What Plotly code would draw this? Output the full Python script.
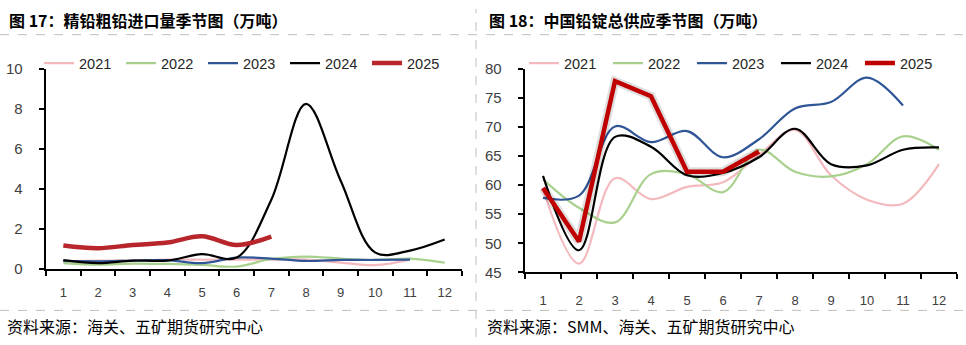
import plotly.graph_objects as go

months = list(range(1, 13))
month_labels = [str(m) for m in months]
years = ["2021", "2022", "2023", "2024", "2025"]
left_yticks = [0, 2, 4, 6, 8, 10]
right_yticks = [45, 50, 55, 60, 65, 70, 75, 80]

# Left chart: 精铅粗铅进口量 (万吨)
imp_2021 = [0.35, 0.40, 0.40, 0.45, 0.45, 0.45, 0.45, 0.45, 0.30, 0.17, 0.45]
imp_2022 = [0.27, 0.19, 0.25, 0.23, 0.18, 0.10, 0.48, 0.60, 0.50, 0.43, 0.50, 0.30]
imp_2023 = [0.38, 0.36, 0.40, 0.42, 0.27, 0.55, 0.50, 0.38, 0.43, 0.43, 0.45]
imp_2024 = [0.42, 0.27, 0.40, 0.40, 0.72, 0.55, 3.45, 8.25, 4.40, 0.80, 0.90, 1.45]
imp_2025 = [1.15, 1.02, 1.18, 1.30, 1.62, 1.18, 1.60]

# Right chart: 中国铅锭总供应 (万吨)
sup_2021 = [59.3, 46.5, 61.2, 57.6, 59.7, 60.5, 65.2, 69.5, 61.7, 57.5, 56.8, 63.6]
sup_2022 = [61.0, 56.1, 53.6, 61.9, 61.9, 58.8, 66.1, 62.3, 61.5, 63.6, 68.4, 66.1]
sup_2023 = [57.8, 58.2, 70.1, 67.4, 69.3, 64.8, 67.9, 73.2, 74.3, 78.5, 73.7]
sup_2024 = [61.6, 48.8, 68.3, 66.6, 61.7, 62.1, 64.8, 69.7, 63.6, 63.4, 66.1, 66.5]
sup_2025 = [59.5, 50.3, 77.9, 75.3, 62.3, 62.3, 65.8]

colors = {"2021": "#F4B9BE", "2022": "#A9D18E", "2023": "#2F5597",
          "2024": "#000000", "2025": "#C00000"}

left_data = {"2021": imp_2021, "2022": imp_2022, "2023": imp_2023,
             "2024": imp_2024, "2025": imp_2025}
right_data = {"2021": sup_2021, "2022": sup_2022, "2023": sup_2023,
              "2024": sup_2024, "2025": sup_2025}

fig = go.Figure()

for y in years:
    vals = left_data[y]
    fig.add_trace(go.Scatter(
        x=months[:len(vals)], y=vals, mode="lines", name=y,
        line=dict(color="#B8252B" if y == "2025" else colors[y],
                  width=4.5 if y == "2025" else 2.2, shape="spline", smoothing=1.0),
        xaxis="x", yaxis="y", legend="legend"))

for y in years:
    vals = right_data[y]
    if y == "2025":
        fig.add_trace(go.Scatter(
            x=months[:len(vals)], y=vals, mode="lines", showlegend=False,
            line=dict(color="rgba(0,0,0,0.13)", width=9, shape="linear"),
            xaxis="x2", yaxis="y2", hoverinfo="skip"))
    fig.add_trace(go.Scatter(
        x=months[:len(vals)], y=vals, mode="lines", name=y,
        line=dict(color=colors[y], width=4.5 if y == "2025" else 2.2,
                  shape="linear" if y == "2025" else "spline", smoothing=1.0),
        xaxis="x2", yaxis="y2", legend="legend2"))

tick_font = dict(family="Liberation Sans, Arial", size=15, color="#404040")
pad = "<span style='color:rgba(0,0,0,0);font-size:12px'>00</span>"


def xaxis_common(label_len):
    return dict(
        range=[0.5, 12.5], tickmode="array", tickvals=months, ticktext=month_labels,
        ticks="outside", ticklen=label_len, tickcolor="rgba(0,0,0,0)",
        showline=True, linecolor="black", linewidth=2, showgrid=False, zeroline=False,
        tickfont=dict(family="Liberation Sans, Arial", size=13, color="#404040"),
        minor=dict(tickmode="array", tickvals=[0.5 + i for i in range(13)],
                   ticks="outside", ticklen=5, tickwidth=1.5, tickcolor="black",
                   showgrid=False),
        fixedrange=True)


def yaxis_common(rng, ticks_list):
    return dict(
        range=rng, tickmode="array", tickvals=ticks_list,
        ticktext=[f"{v}{pad}" for v in ticks_list],
        ticks="outside", ticklen=5, tickwidth=1.5, tickcolor="black",
        showline=True, linecolor="black", linewidth=2,
        showgrid=False, zeroline=False, tickfont=tick_font, fixedrange=True)


legend_font = dict(family="Liberation Sans, Arial", size=14.5, color="#262626")

fig.update_layout(
    width=966, height=345, margin=dict(l=0, r=0, t=0, b=0),
    paper_bgcolor="white", plot_bgcolor="white",
    xaxis=dict(domain=[46 / 966, 462 / 966], anchor="y", **xaxis_common(11)),
    yaxis=dict(domain=[(345 - 273) / 345, (345 - 63) / 345], anchor="x",
               **yaxis_common([0, 10], left_yticks)),
    xaxis2=dict(domain=[525 / 966, 957 / 966], anchor="y2", **xaxis_common(15)),
    yaxis2=dict(domain=[(345 - 277) / 345, (345 - 63) / 345], anchor="x2",
                **yaxis_common([45, 80], right_yticks)),
    legend=dict(orientation="h", x=0.0404, y=(345 - 57) / 345, xanchor="left",
                yanchor="middle", bgcolor="rgba(0,0,0,0)", font=legend_font,
                entrywidth=37, entrywidthmode="pixels", tracegroupgap=0),
    legend2=dict(orientation="h", x=0.5424, y=(345 - 57) / 345, xanchor="left",
                 yanchor="middle", bgcolor="rgba(0,0,0,0)", font=legend_font,
                 entrywidth=39, entrywidthmode="pixels", tracegroupgap=0),
    showlegend=True,
)

title_font = dict(family="Noto Sans CJK SC", size=16, color="black")
src_font = dict(family="Noto Sans CJK SC", size=16, color="black")
fig.add_annotation(text="<b>图 17：精铅粗铅进口量季节图（万吨）</b>", x=7 / 966, y=(345 - 12) / 345,
                   xref="paper", yref="paper", xanchor="left", yanchor="middle",
                   showarrow=False, font=title_font)
fig.add_annotation(text="<b>图 18：中国铅锭总供应季节图（万吨）</b>", x=487 / 966, y=(345 - 12) / 345,
                   xref="paper", yref="paper", xanchor="left", yanchor="middle",
                   showarrow=False, font=title_font)
fig.add_annotation(text="资料来源：海关、五矿期货研究中心", x=5 / 966, y=(345 - 333) / 345,
                   xref="paper", yref="paper", xanchor="left", yanchor="middle",
                   showarrow=False, font=src_font)
fig.add_annotation(text="资料来源：SMM、海关、五矿期货研究中心", x=485 / 966, y=(345 - 333) / 345,
                   xref="paper", yref="paper", xanchor="left", yanchor="middle",
                   showarrow=False, font=src_font)

dash = dict(color="#BFBFBF", width=1, dash="dash")
fig.add_shape(type="line", xref="paper", yref="paper", x0=0, x1=1,
              y0=(345 - 27) / 345, y1=(345 - 27) / 345, line=dash)
fig.add_shape(type="line", xref="paper", yref="paper", x0=0, x1=1,
              y0=(345 - 317) / 345, y1=(345 - 317) / 345, line=dash)
fig.add_shape(type="line", xref="paper", yref="paper", x0=476 / 966, x1=476 / 966,
              y0=0, y1=1, line=dash)

fig.write_html("out.html")
